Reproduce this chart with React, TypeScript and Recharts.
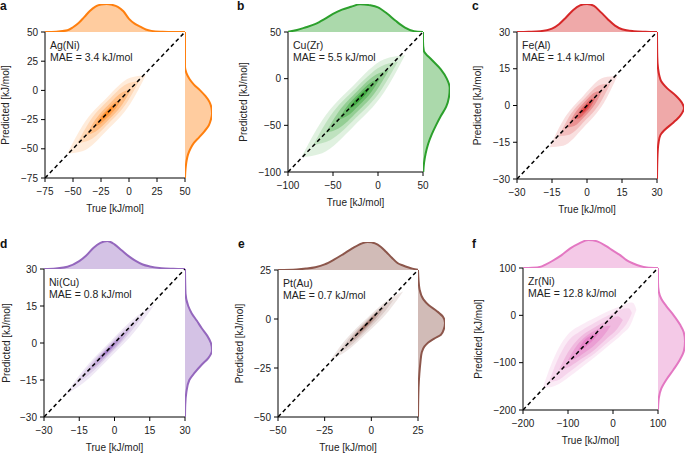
import React from "react";
import { ComposedChart, AreaChart, Area, Line, XAxis, YAxis, Label } from "recharts";

const FONT = '"Liberation Sans", Arial, Helvetica, sans-serif';

const letters = ["a", "b", "c", "d", "e", "f"];
const systems = ["Ag(Ni)", "Cu(Zr)", "Fe(Al)", "Ni(Cu)", "Pt(Au)", "Zr(Ni)"];
const maeValues = ["3.4", "5.5", "1.4", "0.8", "0.7", "12.8"];
const colors = ["#ff7f0e", "#2ca02c", "#d62728", "#9467bd", "#8c564b", "#e377c2"];
const domains: [number, number][] = [[-75, 50], [-100, 50], [-30, 30], [-30, 30], [-50, 25], [-200, 100]];
const axisTicks = [
  [-75, -50, -25, 0, 25, 50],
  [-100, -50, 0, 50],
  [-30, -15, 0, 15, 30],
  [-30, -15, 0, 15, 30],
  [-50, -25, 0, 25],
  [-200, -100, 0, 100],
];

// marginal densities (peak ~1): [value, density]
const trueDensity: [number, number][][] = [
  [[-75, 0], [-65, 0.01], [-55, 0.06], [-50, 0.17], [-45, 0.32], [-40, 0.53], [-35, 0.75], [-30, 0.91], [-25, 0.98], [-20, 1], [-15, 0.97], [-10, 0.9], [-5, 0.74], [0, 0.47], [5, 0.3], [10, 0.19], [15, 0.09], [20, 0.04], [30, 0.01], [40, 0], [50, 0]],
  [[-100, 0.01], [-90, 0.07], [-80, 0.17], [-70, 0.28], [-60, 0.45], [-50, 0.65], [-40, 0.8], [-30, 0.9], [-20, 0.99], [-10, 0.96], [0, 0.88], [10, 0.66], [20, 0.39], [30, 0.16], [40, 0.03], [50, 0]],
  [[-30, 0], [-25, 0.01], [-20, 0.03], [-15, 0.12], [-12, 0.28], [-9, 0.52], [-6, 0.78], [-3, 0.95], [0, 1], [3, 0.93], [6, 0.7], [9, 0.45], [12, 0.23], [15, 0.1], [20, 0.03], [25, 0.01], [30, 0]],
  [[-30, 0], [-25, 0.02], [-20, 0.08], [-15, 0.28], [-12, 0.48], [-9, 0.75], [-6, 0.93], [-3, 1], [0, 0.88], [3, 0.67], [6, 0.46], [9, 0.29], [12, 0.16], [15, 0.09], [20, 0.03], [25, 0.01], [30, 0]],
  [[-50, 0], [-40, 0.02], [-35, 0.05], [-30, 0.1], [-25, 0.2], [-20, 0.37], [-15, 0.57], [-10, 0.78], [-5, 0.95], [-2, 1], [2, 0.95], [5, 0.83], [8, 0.64], [11, 0.44], [14, 0.25], [17, 0.16], [20, 0.09], [22, 0.05], [25, 0.01]],
  [[-200, 0], [-180, 0.01], [-160, 0.05], [-150, 0.12], [-135, 0.25], [-115, 0.45], [-95, 0.7], [-75, 0.88], [-55, 1], [-35, 0.95], [-15, 0.78], [0, 0.62], [15, 0.47], [30, 0.28], [45, 0.16], [60, 0.07], [75, 0.02], [100, 0]],
];

const predDensity: [number, number][][] = [
  [[50, 0], [20, 0], [15, 0.05], [10, 0.16], [5, 0.33], [0, 0.56], [-5, 0.76], [-10, 0.91], [-15, 0.98], [-20, 1], [-25, 0.96], [-30, 0.88], [-35, 0.72], [-40, 0.53], [-45, 0.33], [-50, 0.2], [-55, 0.11], [-60, 0.06], [-65, 0.03], [-70, 0.01], [-75, 0]],
  [[50, 0], [40, 0], [30, 0.03], [20, 0.33], [10, 0.66], [0, 0.88], [-10, 0.99], [-20, 0.96], [-30, 0.86], [-40, 0.66], [-50, 0.48], [-60, 0.32], [-70, 0.19], [-80, 0.1], [-90, 0.04], [-100, 0.01]],
  [[30, 0], [20, 0.01], [15, 0.04], [12, 0.09], [10, 0.15], [7, 0.38], [4, 0.7], [1, 0.93], [-1, 1], [-4, 0.87], [-7, 0.6], [-10, 0.28], [-12, 0.13], [-15, 0.06], [-20, 0.02], [-30, 0]],
  [[30, 0], [20, 0.02], [15, 0.12], [12, 0.25], [9, 0.44], [6, 0.62], [3, 0.82], [0, 0.96], [-3, 1], [-6, 0.87], [-9, 0.6], [-12, 0.36], [-15, 0.16], [-20, 0.05], [-25, 0.01], [-30, 0]],
  [[25, 0], [20, 0.02], [15, 0.06], [10, 0.2], [7, 0.4], [4, 0.7], [1, 0.93], [-2, 1], [-5, 0.96], [-8, 0.85], [-10, 0.6], [-12, 0.38], [-14, 0.24], [-17, 0.14], [-22, 0.09], [-28, 0.05], [-35, 0.02], [-50, 0]],
  [[100, 0], [70, 0], [50, 0.03], [35, 0.12], [20, 0.3], [0, 0.58], [-20, 0.82], [-35, 0.95], [-55, 1], [-75, 0.96], [-95, 0.8], [-115, 0.57], [-135, 0.32], [-155, 0.12], [-175, 0.03], [-200, 0]],
];

// KDE contour levels, outer to inner: [true, predicted low, predicted high]
const contours: [number, number, number][][][] = [
  [
    [[-55, -54, -54], [-41, -51.8, -29.4], [-20, -34.5, -6.5], [1, -11.6, 10.8], [15, 13, 13]],
    [[-46, -45, -45], [-35, -42.4, -26.4], [-18.5, -28.5, -8.5], [-2, -10.6, 5.4], [9, 8, 8]],
    [[-38, -38, -38], [-30, -35.4, -25], [-18, -25, -12], [-6, -12, -1.6], [2, 1, 1]],
    [[-31, -31, -31], [-26.2, -29.2, -23.6], [-19, -23, -16], [-11.8, -15.4, -9.8], [-7, -8, -8]],
    [[-26, -26, -26], [-23.4, -24.8, -22], [-19.5, -21.3, -17.7], [-15.6, -17, -14.2], [-13, -13, -13]],
  ],
  [
    [[-85, -84, -84], [-62, -79.8, -44.6], [-27.5, -51.5, -7.5], [7, -14.4, 20.8], [30, 25, 25]],
    [[-72, -71, -71], [-53.2, -66, -40.4], [-25, -42.5, -10.5], [3.2, -12.6, 13], [22, 18, 18]],
    [[-58, -58, -58], [-44, -53.4, -35.8], [-23, -35.5, -13.5], [-2, -13.2, 4.4], [12, 9, 9]],
    [[-44, -44, -44], [-34.8, -40.4, -30], [-21, -28.5, -15.5], [-7.2, -14, -3.6], [2, 0, 0]],
    [[-32, -32, -32], [-27.2, -29.8, -25], [-20, -23.5, -17.5], [-12.8, -16, -11.2], [-8, -9, -9]],
  ],
  [
    [[-16, -17, -17], [-10.2, -16.4, -6], [-1.5, -9, 4], [7.2, 1, 11.4], [13, 12, 12]],
    [[-12, -12.5, -12.5], [-7.6, -11.9, -4.5], [-1, -6.35, 2.85], [5.6, 1, 8.4], [10, 9, 9]],
    [[-8.5, -9, -9], [-5.5, -8.4, -3.6], [-1, -4.5, 1.5], [3.5, 0.6, 5.4], [6.5, 6, 6]],
    [[-5, -5.5, -5.5], [-3.3, -5.16, -2.44], [-0.75, -2.95, 0.45], [1.8, -0.06, 2.66], [3.5, 3, 3]],
    [[-2.5, -3, -3], [-1.7, -2.84, -1.56], [-0.5, -1.8, -0.2], [0.7, -0.44, 0.84], [1.5, 1, 1]],
  ],
  [
    [[-21, -21, -21], [-13.4, -16.3, -11.1], [-2, -5.95, 0.45], [9.4, 5.6, 10.8], [17, 15.5, 15.5]],
    [[-17, -17, -17], [-11.2, -13.2, -9.6], [-2.5, -5.2, -0.8], [6.2, 3.6, 7.2], [12, 11, 11]],
    [[-12, -12, -12], [-8.2, -9.6, -7.2], [-2.5, -4.5, -1.5], [3.2, 1.2, 3.6], [7, 6, 6]],
    [[-8, -8, -8], [-5.8, -6.6, -5.2], [-2.5, -3.65, -1.85], [0.8, -0.3, 1.1], [3, 2.5, 2.5]],
    [[-5, -5, -5], [-4, -4.5, -3.7], [-2.5, -3.25, -2.25], [-1, -1.8, -1], [0, -0.5, -0.5]],
  ],
  [
    [[-22, -21, -21], [-14.2, -17, -11], [-2.5, -7.3, 0.3], [9.2, 4, 10], [17, 14, 14]],
    [[-18, -17.5, -17.5], [-12, -14.1, -9.9], [-3, -6.35, -1.15], [6, 2.4, 6.6], [12, 10, 10]],
    [[-13, -13, -13], [-9, -10.56, -7.84], [-3, -5.2, -1.8], [3, 0.84, 3.56], [7, 6, 6]],
    [[-9, -9, -9], [-6.6, -7.5, -5.9], [-3, -4.25, -2.25], [0.6, -0.6, 1], [3, 2.5, 2.5]],
    [[-6, -6, -6], [-4.8, -5.4, -4.4], [-3, -3.85, -2.65], [-1.2, -2.1, -1.1], [0, -0.5, -0.5]],
  ],
  [
    [[-155, -153, -150], [-140, -152, -110], [-120, -145, -68], [-100, -132, -40], [-70, -110, -20], [-40, -88, -5], [-10, -64, 9], [20, -40, 20], [40, -18, 27], [45, -6, 26], [52, 12, 12]],
    [[-142, -140, -140], [-125, -138, -98], [-100, -122, -55], [-70, -100, -32], [-40, -80, -15], [-10, -56, 0], [15, -35, 12], [35, -10, 15], [42, 5, 5]],
    [[-120, -115, -115], [-100, -110, -78], [-75, -95, -48], [-45, -76, -28], [-15, -50, -12], [10, -28, -2], [22, -10, -10]],
    [[-100, -95, -95], [-85, -92, -70], [-65, -80, -48], [-40, -62, -32], [-20, -42, -24], [-5, -22, -22]],
    [[-78, -75, -75], [-68, -72, -58], [-55, -62, -46], [-42, -50, -40], [-32, -38, -38]],
  ],
];

const levelOpacity = [0.15, 0.18, 0.29, 0.4, 0.67];

// layout: plot box and label placement for each panel
const boxes = [
  { l: 45, t: 32, w: 140, h: 146, yw: 40, lx: 0, ly: 0 },
  { l: 288, t: 32, w: 135, h: 140, yw: 45, lx: 237, ly: 0 },
  { l: 517, t: 32, w: 140, h: 147, yw: 40, lx: 472, ly: 0 },
  { l: 44, t: 269, w: 141, h: 148, yw: 38, lx: 0, ly: 238 },
  { l: 278, t: 270, w: 140, h: 147, yw: 39, lx: 238, ly: 238 },
  { l: 523, t: 268, w: 135, h: 142, yw: 45, lx: 472, ly: 238 },
];

const M = { top: 8, right: 12, bottom: 0, left: 7 };

const fmt = (v: number) => String(v).replace("-", "\u2212");
const tickStyle = { fontSize: 10, fill: "#222", fontFamily: FONT };

function Panel({ i }: { i: number }) {
  const b = boxes[i];
  const dom = domains[i];
  const ticks = axisTicks[i];
  const c = colors[i];
  const diag = [{ x: dom[0], v: dom[0] }, { x: dom[1], v: dom[1] }];
  const tops = trueDensity[i].map(([x, d]) => ({ x, d }));
  const rights = predDensity[i].map(([y, d]) => ({ y, d }));

  return (
    <>
      <div style={{ position: "absolute", left: b.l - b.yw - M.left, top: b.t - M.top }}>
        <ComposedChart width={M.left + b.yw + b.w + M.right} height={M.top + b.h + 36} margin={M}>
          <XAxis xAxisId="b" type="number" dataKey="x" domain={dom} ticks={ticks} interval={0} allowDataOverflow
            height={36} tickSize={4} tickMargin={6} stroke="#000" tick={tickStyle} tickFormatter={fmt}>
            <Label value="True [kJ/mol]" position="insideBottom" offset={2} style={{ ...tickStyle }} />
          </XAxis>
          <XAxis xAxisId="t" orientation="top" type="number" dataKey="x" domain={dom} ticks={ticks} interval={0} allowDataOverflow
            height={0} mirror tick={false} tickSize={3} stroke="#000" />
          <YAxis yAxisId="l" type="number" domain={dom} ticks={ticks} interval={0} allowDataOverflow
            width={b.yw} tickSize={4} tickMargin={3} stroke="#000" tick={tickStyle} tickFormatter={fmt}>
            <Label value="Predicted [kJ/mol]" angle={-90} position="insideLeft" offset={0} style={{ ...tickStyle, textAnchor: "middle" }} />
          </YAxis>
          <YAxis yAxisId="r" orientation="right" type="number" domain={dom} ticks={ticks} interval={0} allowDataOverflow
            width={0} mirror tick={false} tickSize={3} stroke="#000" />
          {contours[i].map((lvl, k) => (
            <Area key={k} xAxisId="b" yAxisId="l" data={lvl.map(([x, lo, hi]) => ({ x, band: [lo, hi] }))}
              dataKey="band" type="monotone" stroke="none" fill={c} fillOpacity={levelOpacity[k]}
              dot={false} activeDot={false} isAnimationActive={false} />
          ))}
          <Line xAxisId="b" yAxisId="l" data={diag} dataKey="v" stroke="#000" strokeWidth={1.5} strokeDasharray="4 3"
            dot={false} activeDot={false} isAnimationActive={false} />
        </ComposedChart>
      </div>

      <div style={{ position: "absolute", left: b.l, top: b.t - 30 }}>
        <AreaChart width={b.w} height={32} data={tops} margin={{ top: 2, right: 0, bottom: 2, left: 0 }}>
          <XAxis type="number" dataKey="x" domain={dom} hide allowDataOverflow />
          <YAxis type="number" domain={[0, 1]} hide allowDataOverflow />
          <Area dataKey="d" type="monotone" stroke={c} strokeWidth={2} fill={c} fillOpacity={0.4}
            dot={false} activeDot={false} isAnimationActive={false} />
        </AreaChart>
      </div>

      <div style={{ position: "absolute", left: b.l + b.w - 2, top: b.t - 2 }}>
        <AreaChart layout="vertical" width={31} height={b.h + 4} data={rights} margin={{ top: 2, right: 2, bottom: 2, left: 2 }}>
          <XAxis type="number" domain={[0, 1]} hide allowDataOverflow />
          <YAxis type="number" dataKey="y" domain={dom} reversed hide allowDataOverflow />
          <Area dataKey="d" type="monotone" stroke={c} strokeWidth={2} fill={c} fillOpacity={0.4}
            dot={false} activeDot={false} isAnimationActive={false} />
        </AreaChart>
      </div>

      <div style={{ position: "absolute", left: b.lx, top: b.ly, fontSize: 12, lineHeight: "12px", fontWeight: "bold", color: "#111" }}>
        {letters[i]}
      </div>
      <div style={{ position: "absolute", left: b.l + 5, top: b.t + 6.5, fontSize: 10.5, lineHeight: "12px", color: "#222", whiteSpace: "pre" }}>
        <div>{systems[i]}</div>
        <div>{`MAE = ${maeValues[i]} kJ/mol`}</div>
      </div>
    </>
  );
}

export default function App() {
  return (
    <div style={{ position: "absolute", left: 0, top: 0, width: 685, height: 453, background: "#fff", fontFamily: FONT, overflow: "hidden" }}>
      {letters.map((_, i) => (
        <Panel key={i} i={i} />
      ))}
    </div>
  );
}
